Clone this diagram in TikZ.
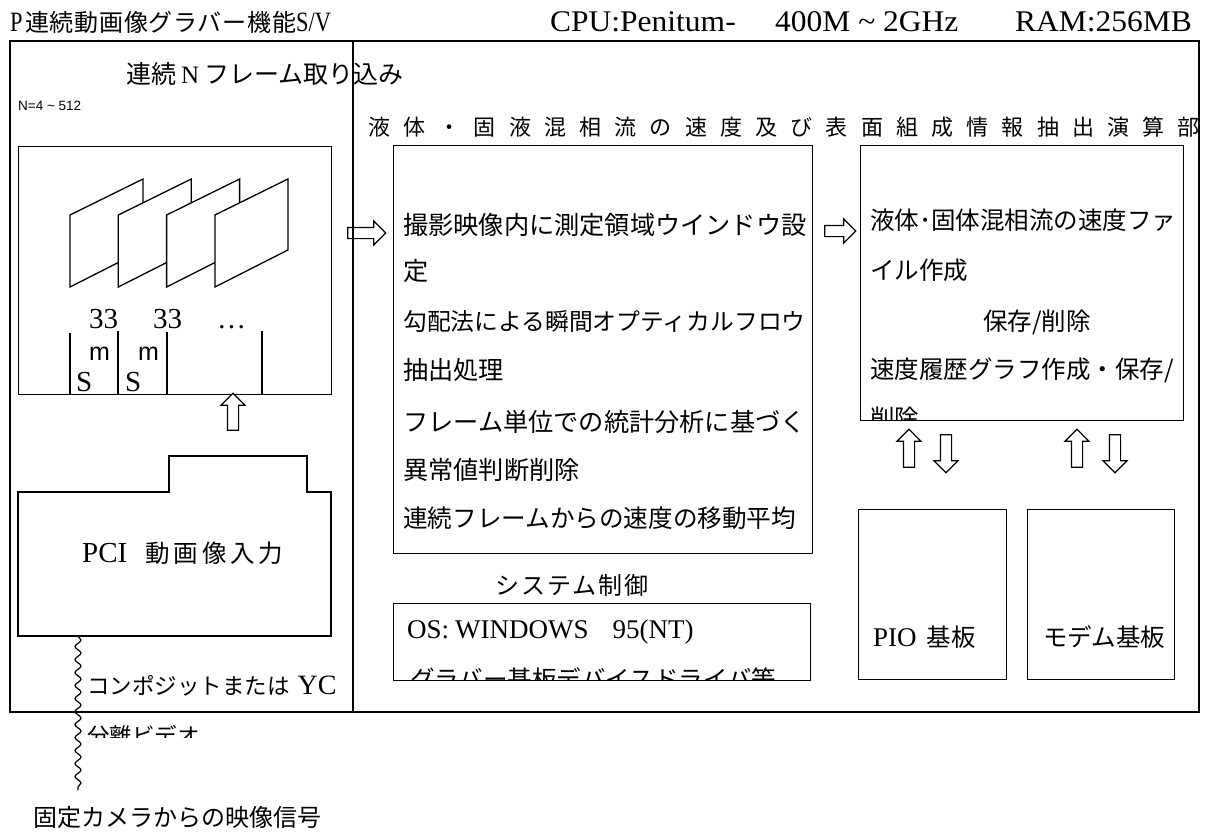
\documentclass[tikz,border=0pt]{standalone}
\usepackage{fontspec}
\setmainfont{Liberation Serif}
\newfontfamily\condserif[FakeStretch=0.8]{Liberation Serif}
\newfontfamily\hdserif[FakeStretch=1.05]{Liberation Serif}
\newfontfamily\jp{Noto Sans CJK JP}
\newfontfamily\jptitle[LetterSpace=60]{Noto Sans CJK JP}
\newfontfamily\jphead[LetterSpace=3]{Noto Sans CJK JP}
\newfontfamily\jppci[LetterSpace=16]{Noto Sans CJK JP}
\newfontfamily\jpsys[LetterSpace=8]{Noto Sans CJK JP}
\newfontfamily\arialf{Liberation Sans}
\newcommand\fsz[1]{\fontsize{#1}{#1}\selectfont}
\usetikzlibrary{shapes.arrows,decorations.pathmorphing}
\tikzset{
  panel/.style={draw, line width=1.3pt, inner sep=0pt, anchor=north west},
  harrow/.style={single arrow, draw, line width=1.2pt, fill=white, inner xsep=0pt, inner ysep=5pt,
    single arrow head extend=6.5pt, single arrow head indent=0pt},
  txt/.style={anchor=west, inner sep=0pt},
  frm/.style={fill=white, draw, line width=1.3pt, line join=miter},
  wire/.style={line width=1.2pt, decorate, decoration={snake, segment length=13pt, amplitude=3pt}}
}
\begin{document}
\begin{tikzpicture}[x=1pt,y=-1pt]
\useasboundingbox[fill=white] (0,0) rectangle (1208,831);

% header
\node[txt, font=\condserif\fsz{28}] (hP) at (10,22) {P};
\node[txt, font=\jphead\fsz{24}] (hJ) at (25,22) {連続動画像グラバー機能};
\node[txt, font=\condserif\fsz{28}] (hSV) at (296,22) {S/V};
\node[txt, font=\hdserif\fsz{30}] (cpu) at (550,22) {CPU:Penitum-};
\node[txt, font=\hdserif\fsz{30}] (ghz) at (775,22) {400M \textasciitilde{} 2GHz};
\node[anchor=east, inner sep=0pt, font=\hdserif\fsz{30}] (ram) at (1192,22) {RAM:256MB};

% left panel
\node[txt, font=\fsz{25}] (ltitle) at (126,74) {{\jp 連続}\hspace{5pt}N\hspace{5pt}{\jp フレーム取り込み}};
\node[txt, font=\arialf\fsz{13.5}] (nrange) at (18,106) {N=4 \textasciitilde{} 512};
\node[panel, minimum width=313pt, minimum height=248pt] (fbox) at (18,146) {};
\foreach \i in {0,1,2,3}{
  \draw[frm] ({70+48.3*\i},215) -- ({143+48.3*\i},179) -- ({143+48.3*\i},250) -- ({70+48.3*\i},287) -- cycle;
}
\draw[line width=1.2pt] (70,333) -- (70,394);
\draw[line width=1.2pt] (118,331) -- (118,394);
\draw[line width=1.2pt] (167,332) -- (167,394);
\draw[line width=1.2pt] (262,331) -- (262,394);
\node[anchor=base west, inner sep=0pt, font=\fsz{29}] (t1) at (89,328) {33};
\node[anchor=base west, inner sep=0pt, font=\fsz{29}] (t2) at (153,328) {33};
\node[anchor=base west, inner sep=0pt, font=\fsz{29}] (t3) at (217,328) {\dots};
\node[anchor=base west, inner sep=0pt, font=\arialf\fsz{25}] (m1) at (89,360) {m};
\node[anchor=base west, inner sep=0pt, font=\arialf\fsz{25}] (m2) at (138,360) {m};
\node[anchor=base west, inner sep=0pt, font=\fsz{29}] (s1) at (76,391) {S};
\node[anchor=base west, inner sep=0pt, font=\fsz{29}] (s2) at (125,391) {S};
\node[harrow, rotate=90, minimum height=37pt] (upA) at (233,414.5) {};

\draw[line width=1.3pt] (18,492) -- (169,492) -- (169,456) -- (307,456) -- (307,492) -- (331,492) -- (331,636) -- (18,636) -- cycle;
\node[txt] (pcit) at (82,553) {\fsz{29}PCI\hspace{18pt}{\jppci\fsz{24.5}動画像入力}};
\coordinate (wtop) at (78,636);
\coordinate (wbot) at (78,790);
\draw[wire] (wtop) -- (wbot);
\node[txt] (cyc) at (87,686) {{\jp\fsz{22.5}コンポジットまたは}\hspace{8pt}{\fsz{28}YC}};
\begin{scope}
\clip (80,700) rectangle (400,737.5);
\node[txt, font=\jp\fsz{22.5}] (bunri) at (87,736) {分離ビデオ};
\end{scope}
\node[txt, font=\jp\fsz{24}] (cam) at (33,817) {固定カメラからの映像信号};

% center
\node[txt, font=\jptitle\fsz{22}] (ctitle) at (368,127) {液体・固液混相流の速度及び表面組成情報抽出演算部};
\node[harrow, minimum height=38pt] (ar1) at (364,233) {};
\node[panel, minimum width=419pt, minimum height=408pt] (b1) at (393,145) {};
\begin{scope}
\clip (393,145) rectangle (812,553);
\node[txt, font=\jp\fsz{25.2}] (l1) at (403,225) {撮影映像内に測定領域ウインドウ設};
\node[txt, font=\jp\fsz{25.2}] (l2) at (403,271) {定};
\node[txt, font=\jp\fsz{23.8}] (l3) at (403,321) {勾配法による瞬間オプティカルフロウ};
\node[txt, font=\jp\fsz{25.2}] (l4) at (403,370) {抽出処理};
\node[txt, font=\jp\fsz{25.2}] (l5) at (403,422) {フレーム単位での統計分析に基づく};
\node[txt, font=\jp\fsz{25.2}] (l6) at (403,470) {異常値判断削除};
\node[txt, font=\jp\fsz{24.6}] (l7) at (403,518) {連続フレームからの速度の移動平均};
\end{scope}
\node[font=\jpsys\fsz{24}, inner sep=0pt] (sys) at (572,585) {システム制御};
\node[panel, minimum width=417pt, minimum height=77pt] (osb) at (393,603) {};
\node[txt, font=\fsz{27}] (ost) at (407,632) {OS:\hspace{6pt}WINDOWS\hspace{24pt}95(NT)};
\begin{scope}
\clip (393,603) rectangle (810,680);
\node[txt, font=\jp\fsz{24.5}] (grab) at (410,679) {グラバー基板デバイスドライバ等};
\end{scope}

% right
\node[harrow, minimum height=31pt] (ar2) at (837.5,231) {};
\node[panel, minimum width=323pt, minimum height=275pt] (b2) at (860,145) {};
\begin{scope}
\clip (860,145) rectangle (1183,420);
\node[txt, font=\jp\fsz{24.5}] (r1) at (870,220) {液体･固体混相流の速度ファ};
\node[txt, font=\jp\fsz{24.5}] (r2) at (870,270) {イル作成};
\node[font=\jp\fsz{24.5}, inner sep=0pt] (r3) at (1037,322) {保存/削除};
\node[txt, font=\jp\fsz{24.5}] (r4) at (870,370) {速度履歴グラフ作成・保存/};
\node[txt, font=\jp\fsz{24.5}] (r5) at (870,418) {削除};
\end{scope}
\node[harrow, rotate=90, minimum height=38pt] (u1) at (909,451) {};
\node[harrow, rotate=-90, minimum height=38pt] (d1) at (946,451) {};
\node[harrow, rotate=90, minimum height=38pt] (u2) at (1077,451) {};
\node[harrow, rotate=-90, minimum height=38pt] (d2) at (1115,451) {};
\node[panel, minimum width=148pt, minimum height=170pt] (pio) at (858,509) {};
\node[txt] (piot) at (873,637) {{\fsz{27}PIO}\hspace{10pt}{\jp\fsz{24.5}基板}};
\node[panel, minimum width=147pt, minimum height=170pt] (mdm) at (1027,509) {};
\node[txt, font=\jp\fsz{24.5}] (mdmt) at (1043,637) {モデム基板};

% outer frame and divider
\draw[line width=1.6pt] (353,40) -- (353,711);
\node[draw, line width=2.4pt, inner sep=0pt, anchor=north west, minimum width=1189pt, minimum height=671pt] (outer) at (9,40) {};
\end{tikzpicture}
\end{document}
